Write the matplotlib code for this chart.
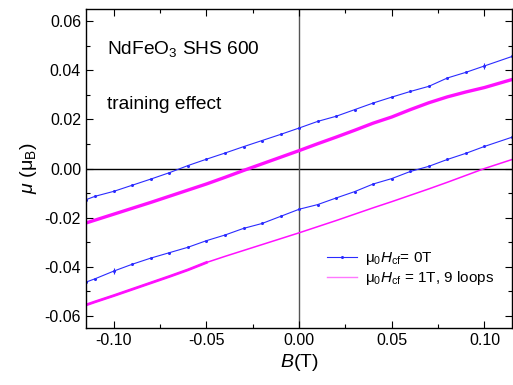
import numpy as np
import matplotlib.pyplot as plt
from matplotlib.ticker import MultipleLocator
from matplotlib.lines import Line2D

plt.rcParams['font.family'] = ['Liberation Sans', 'DejaVu Sans']
plt.rcParams['mathtext.fontset'] = 'custom'
plt.rcParams['mathtext.rm'] = 'Liberation Sans'
plt.rcParams['mathtext.it'] = 'Liberation Sans:italic'

# field values (T) for each branch
b_grid = [-0.115, -0.11, -0.10, -0.09, -0.08, -0.07, -0.06, -0.05, -0.04, -0.03, -0.02, -0.01,
          0.0, 0.01, 0.02, 0.03, 0.04, 0.05, 0.06, 0.07, 0.08, 0.09, 0.10, 0.115]

# mu0 Hcf = 0T : descending (upper) and ascending (lower) branches
blue_upper = [-0.0127, -0.0113, -0.0093, -0.0068, -0.0043, -0.0017, 0.0012, 0.0038, 0.0063, 0.0089,
              0.0114, 0.0139, 0.0165, 0.0192, 0.0213, 0.0240, 0.0267, 0.0291, 0.0314, 0.0335,
              0.0369, 0.0392, 0.0418, 0.0457]
blue_lower = [-0.0463, -0.0449, -0.0418, -0.0390, -0.0365, -0.0343, -0.0321, -0.0294, -0.0271, -0.0244,
              -0.0224, -0.0195, -0.0166, -0.0147, -0.0120, -0.0094, -0.0063, -0.0041, -0.0012, 0.0009,
              0.0037, 0.0062, 0.0090, 0.0128]

# mu0 Hcf = 1T, 9 loops
mag_upper = [-0.0222, -0.0210, -0.0186, -0.0162, -0.0138, -0.0113, -0.0088, -0.0063, -0.0036, -0.0008,
             0.0019, 0.0046, 0.0073, 0.0101, 0.0128, 0.0156, 0.0185, 0.0210, 0.0240, 0.0268,
             0.0292, 0.0312, 0.0330, 0.0363]
mag_lower = [-0.0556, -0.0543, -0.0518, -0.0492, -0.0466, -0.0440, -0.0413, -0.0383, -0.0358, -0.0334,
             -0.0310, -0.0286, -0.0262, -0.0237, -0.0212, -0.0186, -0.0160, -0.0135, -0.0109, -0.0083,
             -0.0056, -0.0028, 0.0000, 0.0037]

blue = '#2b2bff'
magenta = '#ff10ff'

b = np.array(b_grid)
fig = plt.figure(figsize=(5.13, 3.85), dpi=100)
ax = fig.add_axes([0.1676, 0.148, 0.831, 0.8286])

ax.axhline(0, color='black', lw=1.0, zorder=1)
ax.axvline(0, color='#555555', lw=1.0, zorder=1)

# magenta loops (thicker where the loops overlap)
ax.plot(b, mag_upper, color=magenta, lw=2.4, solid_capstyle='butt')
ax.plot(b, mag_lower, color=magenta, lw=1.1)
ax.plot(b[:8], mag_lower[:8], color=magenta, lw=2.0)

# blue loop with small dots
ax.plot(b, blue_upper, color=blue, lw=0.8, marker='o', ms=1.2)
ax.plot(b, blue_lower, color=blue, lw=0.8, marker='o', ms=1.2)
ax.errorbar([b_grid[2]], [blue_lower[2]], yerr=0.0012, color=blue, lw=0.8, capsize=0)
ax.errorbar([b_grid[22]], [blue_upper[22]], yerr=0.0012, color=blue, lw=0.8, capsize=0)

ax.set_xlim(-0.115, 0.115)
ax.set_ylim(-0.065, 0.065)
ax.xaxis.set_major_locator(MultipleLocator(0.05))
ax.xaxis.set_minor_locator(MultipleLocator(0.025))
ax.yaxis.set_major_locator(MultipleLocator(0.02))
ax.yaxis.set_minor_locator(MultipleLocator(0.01))
ax.xaxis.set_major_formatter(plt.FormatStrFormatter('%.2f'))
ax.yaxis.set_major_formatter(plt.FormatStrFormatter('%.2f'))
ax.tick_params(which='both', direction='in', top=True, right=True, labelsize=11.5, width=0.8)
ax.tick_params(which='major', length=5)
ax.tick_params(which='minor', length=3)
for s in ax.spines.values():
    s.set_linewidth(1.0)

ax.set_xlabel(r'$\it{B}$(T)', fontsize=14, labelpad=3)
ax.set_ylabel(r'$\mu$ (μ$_\mathrm{B}$)', fontsize=14, labelpad=4)

ax.text(-0.1035, 0.0485, r'NdFeO$_3$ SHS 600', fontsize=13.8, va='center')
ax.text(-0.1035, 0.026, 'training effect', fontsize=13.8, va='center')

handles = [Line2D([], [], color=blue, lw=0.8, marker='o', ms=1.2),
           Line2D([], [], color='#ff77ff', lw=1.0)]
labels = [r'μ$_0$$\it{H}_\mathrm{cf}$= 0T', r'μ$_0$$\it{H}_\mathrm{cf}$ = 1T, 9 loops']
ax.legend(handles, labels, loc='lower right', bbox_to_anchor=(0.99, 0.085), frameon=False,
          fontsize=11, handlelength=2.0, handletextpad=0.5, labelspacing=0.15)

fig.savefig('out.png', dpi=100)
